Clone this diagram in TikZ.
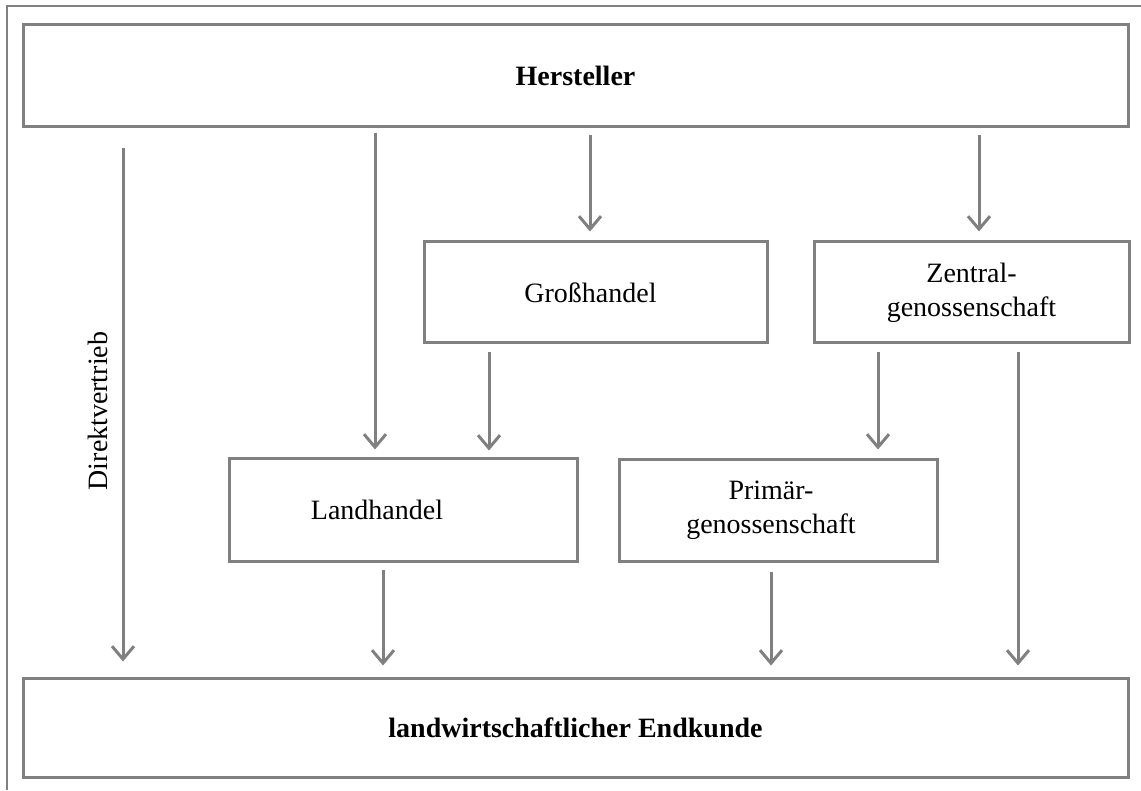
\documentclass[tikz,border=0pt]{standalone}
\usepackage{fontspec}
\setmainfont{Liberation Serif}
\usetikzlibrary{arrows.meta}
\definecolor{lgray}{HTML}{808080}
\tikzset{
  box/.style={draw=lgray, line width=3pt, rectangle, inner sep=0pt, align=center,
    font=\fontsize{28}{34}\selectfont},
  arr/.style={draw=lgray, line width=3pt, -{Straight Barb[length=13pt,width=22pt]}},
  frame/.style={draw=lgray, line width=1.5pt}
}
\begin{document}
\begin{tikzpicture}[x=1pt,y=-1pt]
\useasboundingbox (0,0) rectangle (1141,791);
% outer frame (top and left only)
\coordinate (ftl) at (7,6);
\coordinate (ftr) at (1141,6);
\coordinate (fbl) at (7,790);
\draw[frame] (ftr) -- (ftl) -- (fbl);
% boxes
\node[box, minimum width=1105pt, minimum height=102pt] (her) at (575.5,76) {\bfseries Hersteller};
\node[box, minimum width=1105pt, minimum height=99pt] (end) at (575.5,727.5) {\bfseries landwirtschaftlicher Endkunde};
\node[box, minimum width=343pt, minimum height=101pt] (gross) at (595.5,292.5) {\hspace*{-10pt}Großhandel};
\node[box, minimum width=315pt, minimum height=101pt] (zent) at (971.5,292.5) {Zentral-\\genossenschaft};
\node[box, minimum width=348pt, minimum height=102pt] (land) at (403,510) {\hspace*{-52pt}Landhandel};
\node[box, minimum width=318pt, minimum height=101pt] (prim) at (778,510.5) {\hspace*{-14pt}Primär-\\\hspace*{-14pt}genossenschaft};
\node[font=\fontsize{28}{33}\selectfont, rotate=90, inner sep=0pt] (dir) at (98,411) {Direktvertrieb};
% arrow x positions
\coordinate (x1) at (123,0);
\coordinate (x2) at (375,0);
\coordinate (x3) at (590,0);
\coordinate (x4) at (979,0);
\coordinate (x5) at (489,0);
\coordinate (x6) at (878,0);
\coordinate (x7) at (1018,0);
\coordinate (x8) at (383,0);
\coordinate (x9) at (771,0);
% arrows
\draw[arr, shorten <=20pt, shorten >=15pt] (her.south -| x1) -- (end.north -| x1);
\draw[arr, shorten <=5pt, shorten >=8pt] (her.south -| x2) -- (land.north -| x2);
\draw[arr, shorten <=7pt, shorten >=9pt] (her.south -| x3) -- (gross.north -| x3);
\draw[arr, shorten <=7pt, shorten >=9pt] (her.south -| x4) -- (zent.north -| x4);
\draw[arr, shorten <=8pt, shorten >=7pt] (gross.south -| x5) -- (land.north -| x5);
\draw[arr, shorten <=8pt, shorten >=9pt] (zent.south -| x6) -- (prim.north -| x6);
\draw[arr, shorten <=8pt, shorten >=11pt] (zent.south -| x7) -- (end.north -| x7);
\draw[arr, shorten <=7pt, shorten >=11pt] (land.south -| x8) -- (end.north -| x8);
\draw[arr, shorten <=9pt, shorten >=11pt] (prim.south -| x9) -- (end.north -| x9);
\end{tikzpicture}
\end{document}
